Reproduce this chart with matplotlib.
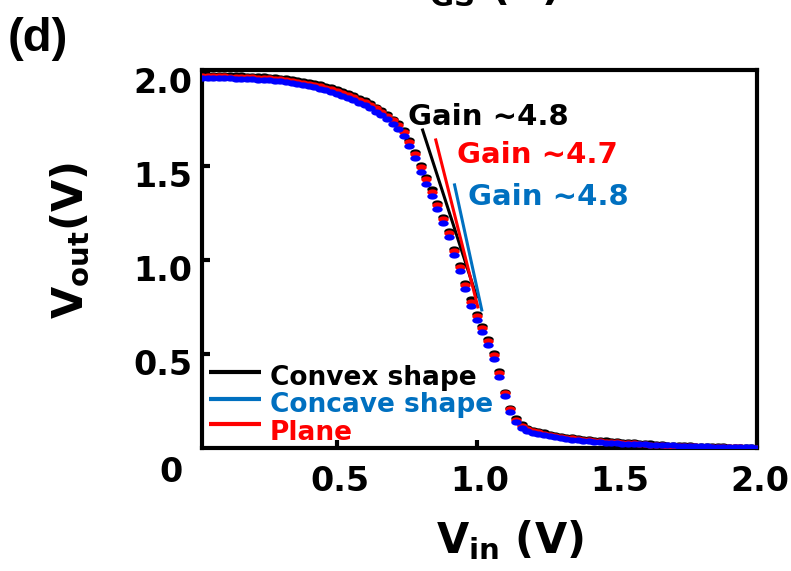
import numpy as np
import matplotlib
matplotlib.use("Agg")
import matplotlib.pyplot as plt
import matplotlib.transforms as mtransforms

plt.rcParams['font.family'] = ['DejaVu Sans']
plt.rcParams['font.weight'] = 'bold'
plt.rcParams['mathtext.fontset'] = 'dejavusans'

# input sweep (V)
vin = [0.02, 0.04, 0.06, 0.08, 0.10, 0.12, 0.14, 0.16, 0.18, 0.20,
       0.22, 0.24, 0.26, 0.28, 0.30, 0.32, 0.34, 0.36, 0.38, 0.40,
       0.42, 0.44, 0.46, 0.48, 0.50, 0.52, 0.54, 0.56, 0.58, 0.60,
       0.62, 0.64, 0.66, 0.68, 0.70, 0.72, 0.74, 0.76, 0.78, 0.80,
       0.82, 0.84, 0.86, 0.88, 0.90, 0.92, 0.94, 0.96, 0.98, 1.00,
       1.02, 1.04, 1.06, 1.08, 1.10, 1.12, 1.14, 1.16, 1.18, 1.20,
       1.22, 1.24, 1.26, 1.28, 1.30, 1.32, 1.34, 1.36, 1.38, 1.40,
       1.42, 1.44, 1.46, 1.48, 1.50, 1.52, 1.54, 1.56, 1.58, 1.60,
       1.62, 1.64, 1.66, 1.68, 1.70, 1.72, 1.74, 1.76, 1.78, 1.80,
       1.82, 1.84, 1.86, 1.88, 1.90, 1.92, 1.94, 1.96, 1.98, 2.00]

vout_convex = [1.985, 1.985, 1.984, 1.984, 1.983, 1.983, 1.982, 1.981, 1.980, 1.979,
               1.978, 1.976, 1.974, 1.972, 1.969, 1.965, 1.961, 1.957, 1.952, 1.946,
               1.940, 1.933, 1.925, 1.917, 1.908, 1.898, 1.887, 1.875, 1.862, 1.848,
               1.832, 1.815, 1.796, 1.775, 1.752, 1.726, 1.690, 1.640, 1.575, 1.505,
               1.440, 1.375, 1.305, 1.230, 1.155, 1.060, 0.975, 0.880, 0.790, 0.715,
               0.650, 0.580, 0.505, 0.410, 0.300, 0.215, 0.160, 0.125, 0.108, 0.098,
               0.090, 0.083, 0.077, 0.071, 0.066, 0.061, 0.057, 0.053, 0.050, 0.047,
               0.044, 0.042, 0.040, 0.038, 0.036, 0.034, 0.032, 0.030, 0.028, 0.026,
               0.024, 0.022, 0.020, 0.018, 0.017, 0.016, 0.015, 0.014, 0.013, 0.012,
               0.011, 0.010, 0.009, 0.008, 0.007, 0.006, 0.005, 0.004, 0.003, 0.002]

vout_plane = [1.978, 1.977, 1.977, 1.976, 1.976, 1.975, 1.974, 1.973, 1.972, 1.971,
              1.970, 1.968, 1.966, 1.963, 1.960, 1.956, 1.952, 1.948, 1.943, 1.937,
              1.931, 1.924, 1.916, 1.908, 1.899, 1.889, 1.878, 1.866, 1.853, 1.839,
              1.823, 1.806, 1.787, 1.766, 1.742, 1.715, 1.678, 1.627, 1.562, 1.492,
              1.428, 1.362, 1.292, 1.218, 1.142, 1.048, 0.962, 0.868, 0.778, 0.703,
              0.638, 0.568, 0.492, 0.398, 0.290, 0.205, 0.150, 0.116, 0.100, 0.091,
              0.083, 0.076, 0.070, 0.065, 0.060, 0.055, 0.051, 0.047, 0.044, 0.041,
              0.038, 0.036, 0.034, 0.032, 0.030, 0.028, 0.026, 0.024, 0.022, 0.020,
              0.018, 0.016, 0.014, 0.013, 0.012, 0.011, 0.010, 0.009, 0.008, 0.007,
              0.006, 0.005, 0.005, 0.004, 0.004, 0.003, 0.003, 0.002, 0.002, 0.001]

vout_concave = [1.968, 1.968, 1.967, 1.967, 1.966, 1.965, 1.964, 1.963, 1.962, 1.961,
                1.959, 1.957, 1.955, 1.952, 1.949, 1.945, 1.941, 1.936, 1.931, 1.925,
                1.918, 1.911, 1.903, 1.894, 1.885, 1.874, 1.863, 1.850, 1.837, 1.822,
                1.806, 1.788, 1.769, 1.747, 1.723, 1.695, 1.657, 1.605, 1.540, 1.470,
                1.405, 1.340, 1.270, 1.195, 1.120, 1.025, 0.940, 0.845, 0.757, 0.683,
                0.618, 0.548, 0.472, 0.380, 0.275, 0.192, 0.138, 0.106, 0.090, 0.082,
                0.075, 0.069, 0.063, 0.058, 0.053, 0.049, 0.045, 0.042, 0.039, 0.036,
                0.033, 0.031, 0.029, 0.027, 0.025, 0.023, 0.022, 0.021, 0.020, 0.019,
                0.018, 0.017, 0.016, 0.015, 0.014, 0.013, 0.012, 0.011, 0.010, 0.009,
                0.008, 0.007, 0.006, 0.006, 0.005, 0.004, 0.004, 0.003, 0.003, 0.002]

# gain fit lines (x, y end points)
gain_convex_x, gain_convex_y = [0.807, 1.000], [1.691, 0.803]
gain_plane_x, gain_plane_y = [0.854, 1.004], [1.638, 0.750]
gain_concave_x, gain_concave_y = [0.921, 1.018], [1.399, 0.734]
gain_labels = ['Gain ~4.8', 'Gain ~4.7', 'Gain ~4.8']

C_BLACK = '#000000'
C_RED = '#FF0000'
C_BLUE = '#0000FF'
C_TXTBLUE = '#0070C0'

fig = plt.figure(figsize=(7.91, 5.71), dpi=100)
ax = fig.add_axes([202 / 791, 1 - 448 / 571, 555 / 791, 378 / 571])

# flat elliptical marker
t = np.linspace(0, 2 * np.pi, 40)
ell = np.column_stack([np.cos(t), 0.6 * np.sin(t)])

ax.plot(vin, vout_convex, ls='none', marker=ell, ms=7.5, mfc=C_BLACK, mec='none', zorder=3)
ax.plot(vin, vout_plane, ls='none', marker=ell, ms=7.5, mfc=C_RED, mec='none', zorder=4)
ax.plot(vin, vout_concave, ls='none', marker=ell, ms=7.5, mfc=C_BLUE, mec='none', zorder=5)

ax.plot(gain_convex_x, gain_convex_y, color=C_BLACK, lw=2.2, zorder=6)
ax.plot(gain_plane_x, gain_plane_y, color=C_RED, lw=2.2, zorder=6)
ax.plot(gain_concave_x, gain_concave_y, color=C_TXTBLUE, lw=2.2, zorder=6)

ax.text(0.754, 1.718, gain_labels[0], color=C_BLACK, fontsize=21, fontweight='bold', va='baseline', zorder=7)
ax.text(0.929, 1.516, gain_labels[1], color=C_RED, fontsize=21, fontweight='bold', va='baseline', zorder=7)
ax.text(0.968, 1.293, gain_labels[2], color=C_TXTBLUE, fontsize=21, fontweight='bold', va='baseline', zorder=7)

# legend drawn by hand
leg = [('Convex shape', C_BLACK, C_BLACK, 0.404, 0.335),
       ('Concave shape', C_TXTBLUE, C_TXTBLUE, 0.261, 0.191),
       ('Plane', C_RED, C_RED, 0.128, 0.043)]
for lab, lc, tc, ly, ty in leg:
    ax.plot([0.046, 0.232], [ly, ly], color=lc, lw=3, solid_capstyle='butt', zorder=6)
    ax.text(0.261, ty, lab, color=tc, fontsize=19, fontweight='bold', va='baseline', zorder=7)

ax.set_xlim(0.02, 2.0)
ax.set_ylim(0, 2.01)
ax.set_xticks([0.5, 1.0, 1.5, 2.0])
ax.set_xticklabels(['0.5', '1.0', '1.5', '2.0'])
ax.set_yticks([0.5, 1.0, 1.5, 2.0])
ax.set_yticklabels(['0.5', '1.0', '1.5', '2.0'])
ax.tick_params(direction='in', length=6, width=3, labelsize=24, color='black')
ax.tick_params(axis='x', pad=12)
ax.tick_params(axis='y', pad=7)
for s in ax.spines.values():
    s.set_linewidth(3)

off_y = mtransforms.ScaledTranslation(0, -8 / 100, fig.dpi_scale_trans)
for lbl in ax.get_yticklabels():
    lbl.set_transform(lbl.get_transform() + off_y)
    lbl.set_fontweight('bold')
off_x = mtransforms.ScaledTranslation(3 / 100, 0, fig.dpi_scale_trans)
for lbl in ax.get_xticklabels():
    lbl.set_transform(lbl.get_transform() + off_x)
    lbl.set_fontweight('bold')

# shared zero at the corner
ax.text(-0.056, -0.066, '0', transform=ax.transAxes, fontsize=24, fontweight='bold',
        ha='center', va='center')

fig.text(510 / 791, 1 - 540 / 571, r'$\mathbf{V}_{\mathbf{in}}$ (V)', fontsize=30,
         fontweight='bold', ha='center', va='center')
fig.text(70 / 791, 1 - 240 / 571, r'$\mathbf{V}_{\mathbf{out}}$(V)', fontsize=30,
         fontweight='bold', ha='center', va='center', rotation=90)

fig.text(8 / 791, 1 - 51 / 571, '(d)', fontsize=34, fontweight='bold',
         family=['Liberation Sans', 'DejaVu Sans'], va='baseline')
# bottom of the label from the panel above (cut by the figure edge)
fig.text(397 / 791, 1.0, r'$\mathbf{V}_{\mathbf{GS}}$ (V)', fontsize=30,
         fontweight='bold', va='baseline')

fig.savefig('out.png', dpi=100)
